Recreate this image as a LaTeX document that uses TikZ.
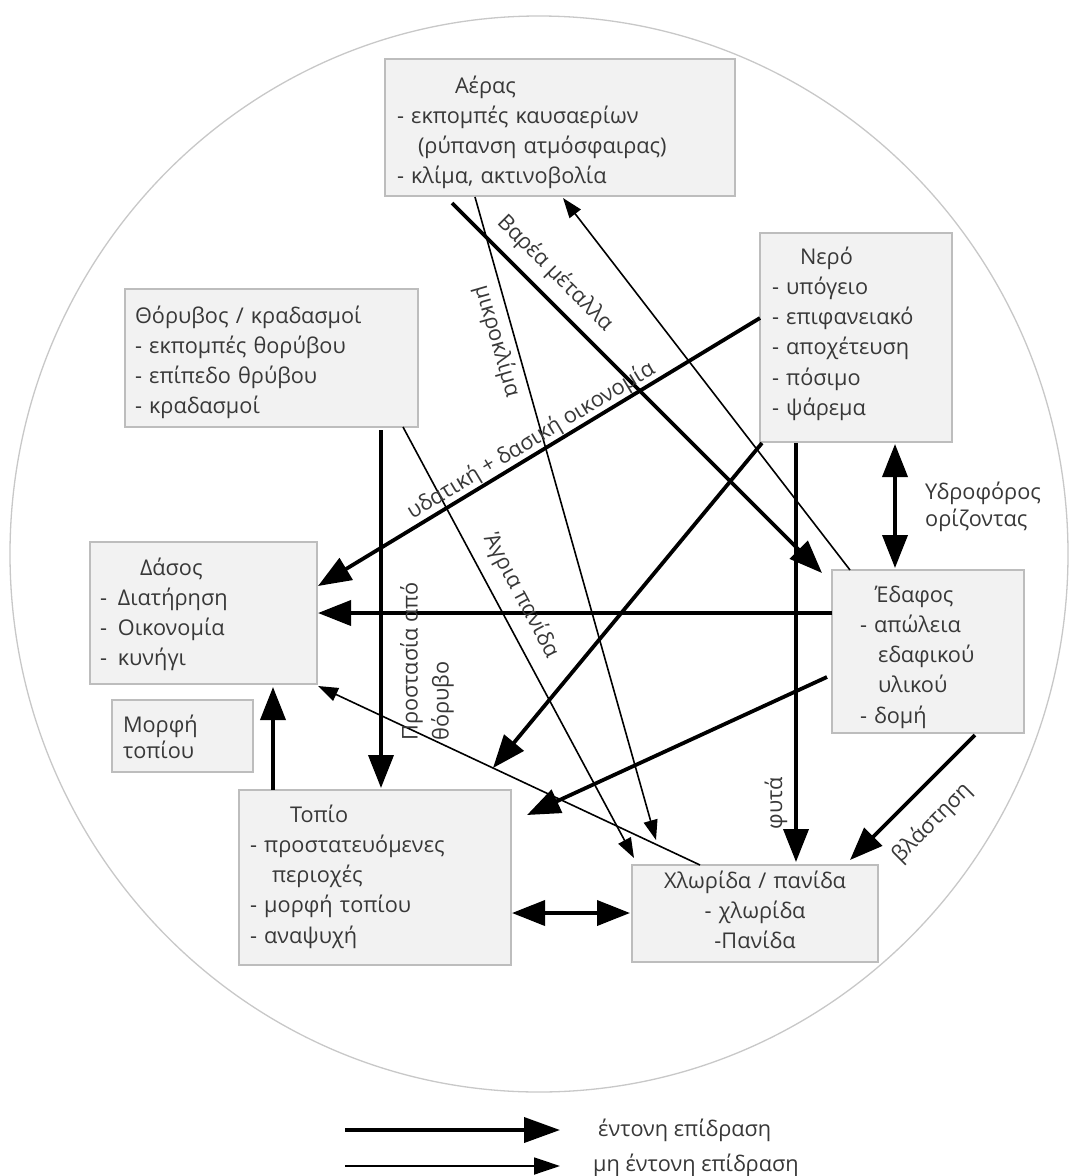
\documentclass[tikz,border=0pt]{standalone}
\usepackage{fontspec}
\setmainfont{Open Sans}
\usetikzlibrary{arrows.meta,calc}
\definecolor{boxfill}{HTML}{F2F2F2}
\definecolor{boxline}{HTML}{BDBDBD}
\definecolor{txt}{HTML}{383838}
\definecolor{ring}{HTML}{C8C8C8}
\begin{document}
\begin{tikzpicture}[x=1pt,y=-1pt,
 boxr/.style={draw=boxline, fill=boxfill, line width=1.4pt, anchor=north west, inner sep=0pt, outer sep=0pt},
 btext/.style={anchor=base west, inner sep=0pt, outer sep=0pt, text=txt, align=left, text width=#1, font=\fontsize{21.7}{30.3}\selectfont},
 btext/.default=300pt,
 lbl/.style={inner sep=0pt, text=txt, font=\fontsize{21.7}{27}\selectfont},
 thickarr/.style={line width=3.8pt, -{Triangle[length=33pt,width=25pt]}},
 thinarr/.style={line width=1.6pt, -{Triangle[length=20pt,width=14pt]}},
 thickboth/.style={line width=3.8pt, {Triangle[length=33pt,width=25pt]}-{Triangle[length=33pt,width=25pt]}},
]
\fill[white] (0,0) rectangle (1075,1176);
\useasboundingbox (0,0) rectangle (1075,1176);
\draw[ring, line width=1.3pt] (539,554) ellipse [x radius=529pt, y radius=538pt];

% boxes
\node[boxr, minimum width=350pt, minimum height=137pt] (aer) at (385,59) {};
\node[boxr, minimum width=192pt, minimum height=209pt] (nero) at (760,233) {};
\node[boxr, minimum width=293pt, minimum height=138pt] (thor) at (125,289) {};
\node[boxr, minimum width=227pt, minimum height=142pt] (dasos) at (90,542) {};
\node[boxr, minimum width=141pt, minimum height=72pt] (morfi) at (112,700) {};
\node[boxr, minimum width=272pt, minimum height=175pt] (topio) at (239,790) {};
\node[boxr, minimum width=246pt, minimum height=97pt] (chlor) at (632,865) {};
\node[boxr, minimum width=192pt, minimum height=163pt] (edafos) at (832,570) {};

% box texts
\node[btext] (aerT) at ($(aer.north west)+(12,34)$) {\hspace*{58pt}Αέρας\\- εκπομπές καυσαερίων\\\hspace*{21pt}(ρύπανση ατμόσφαιρας)\\- κλίμα, ακτινοβολία};
\node[btext=180pt] (neroT) at ($(nero.north west)+(12,31)$) {\hspace*{28pt}Νερό\\- υπόγειο\\- επιφανειακό\\- αποχέτευση\\- πόσιμο\\- ψάρεμα};
\node[btext=280pt] (thorT) at ($(thor.north west)+(10,34)$) {Θόρυβος / κραδασμοί\\- εκπομπές θορύβου\\- επίπεδο θρύβου\\- κραδασμοί};
\node[btext=210pt] (dasosT) at ($(dasos.north west)+(10,33)$) {\hspace*{40pt}Δάσος\\-\hspace{11pt}Διατήρηση\\-\hspace{11pt}Οικονομία\\-\hspace{11pt}κυνήγι};
\node[btext=125pt, font=\fontsize{21.7}{26}\selectfont] (morfiT) at ($(morfi.north west)+(11,32)$) {Μορφή\\τοπίου};
\node[btext=255pt] (topioT) at ($(topio.north west)+(11,32)$) {\hspace*{40pt}Τοπίο\\- προστατευόμενες\\\hspace*{22pt}περιοχές\\- μορφή τοπίου\\- αναψυχή};
\node[btext=246pt, align=center] (chlorT) at ($(chlor.north west)+(0,23)$) {Χλωρίδα / πανίδα\\- χλωρίδα\\-Πανίδα};
\node[btext=160pt] (edafosT) at ($(edafos.north west)+(28,32)$) {\hspace*{15pt}Έδαφος\\- απώλεια\\\hspace*{18pt}εδαφικού\\\hspace*{18pt}υλικού\\- δομή};

% connectors
\draw[thickarr] ($(aer.south west)+(67,7)$) -- ($(edafos.north west)+(-10,3)$);
\draw[thinarr] ($(aer.south west)+(90,1)$) -- ($(chlor.north west)+(24,-25)$);
\draw[thinarr] ($(edafos.north west)+(18,0)$) -- ($(aer.south west)+(178,2)$);
\draw[thinarr] ($(thor.south east)+(-15,0)$) -- ($(chlor.north west)+(2,-7)$);
\draw[thickarr] ($(thor.south west)+(256,3)$) -- ($(topio.north west)+(142,-2)$);
\draw[thickarr] ($(nero.north west)+(0,85)$) -- ($(dasos.north east)+(1,44)$);
\draw[thickarr] ($(edafos.north west)+(0,43)$) -- ($(dasos.north east)+(1,71)$);
\draw[thinarr] ($(chlor.north west)+(68,0)$) -- ($(dasos.south east)+(1,2)$);
\draw[thickarr] ($(topio.north west)+(34,0)$) -- ($(dasos.south west)+(183,3)$);
\draw[thickarr] ($(nero.south west)+(2,1)$) -- ($(topio.north east)+(-18,-22)$);
\draw[thickarr] ($(edafos.north west)+(-5,107)$) -- ($(topio.north east)+(16,25)$);
\draw[thickarr] ($(nero.south west)+(36,1)$) -- ($(chlor.north west)+(164,-3)$);
\draw[thickboth] ($(nero.south west)+(135,2)$) -- ($(edafos.north west)+(63,-2)$);
\draw[thickarr] ($(edafos.south west)+(143,2)$) -- ($(chlor.north east)+(-28,-5)$);
\draw[thickboth] ($(topio.north east)+(1,123)$) -- ($(chlor.north west)+(-2,48)$);

% labels
\node[lbl, rotate=-45] (lbarea) at (555,273) {Βαρέα μέταλλα};
\node[lbl, rotate=-74] (lmikro) at (497,341) {μικροκλίμα};
\node[lbl, rotate=-62] (lagria) at (521,596) {Άγρια πανίδα};
\node[lbl, rotate=31] (lydat) at (531,441) {υδατική + δασική οικονομία};
\node[lbl, rotate=90, anchor=north west, align=left, font=\fontsize{21.7}{31}\selectfont] (lprost) at (400,741) {Προστασία από\\θόρυβο};
\node[lbl, rotate=90] (lfyta) at (776,803) {φυτά};
\node[lbl, rotate=45] (lvlast) at (932,823) {βλάστηση};
\node[lbl, anchor=west, align=left] (lydro) at (925,507) {Υδροφόρος\\ορίζοντας};

% legend
\coordinate (l1a) at (345,1130); \coordinate (l1b) at (560,1130);
\coordinate (l2a) at (345,1166); \coordinate (l2b) at (560,1166);
\draw[line width=3.8pt, -{Triangle[length=36pt,width=25pt]}] (l1a) -- (l1b);
\draw[line width=1.8pt, -{Triangle[length=26pt,width=17pt]}] (l2a) -- (l2b);
\node[lbl, anchor=west] (lg1) at (598,1130) {έντονη επίδραση};
\node[lbl, anchor=west] (lg2) at (593,1165) {μη έντονη επίδραση};
\end{tikzpicture}
\end{document}
